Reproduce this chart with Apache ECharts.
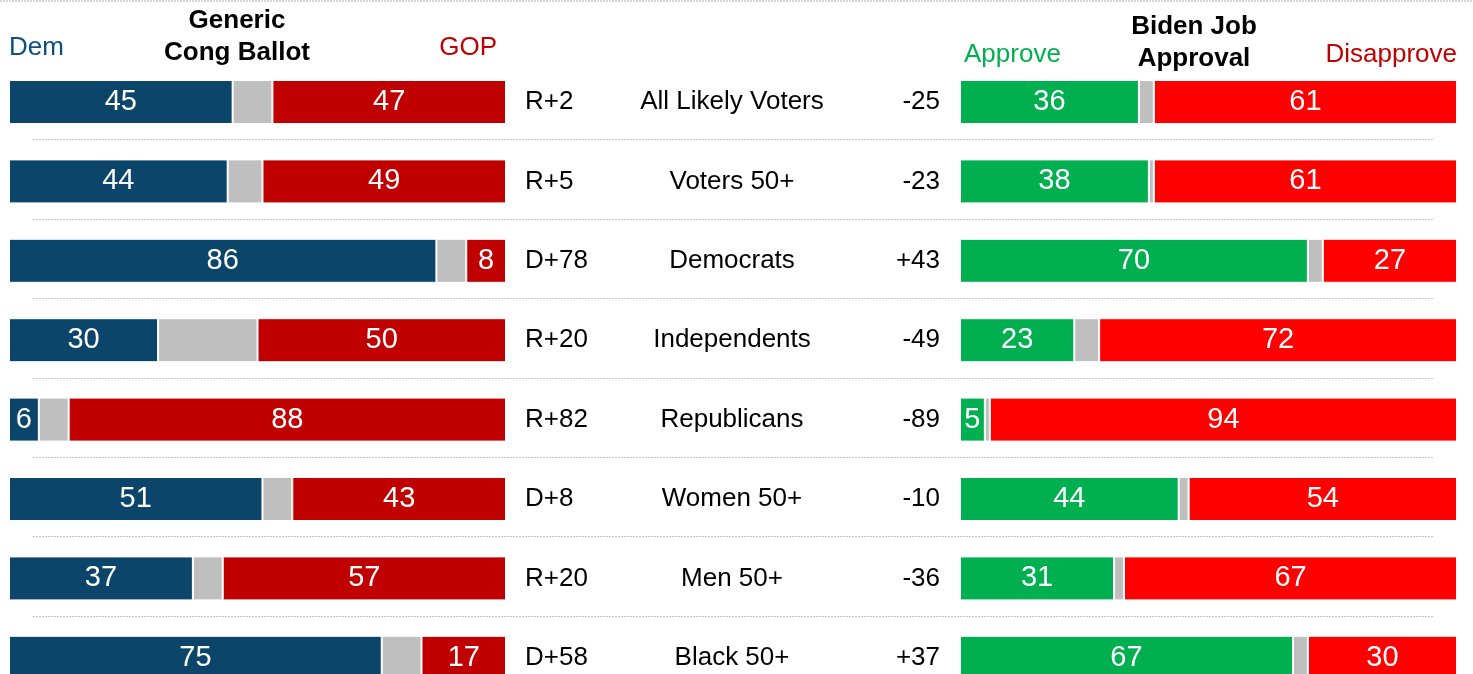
<!DOCTYPE html>
<html>
<head>
<meta charset="utf-8">
<script src="https://cdn.jsdelivr.net/npm/echarts@6/dist/echarts.min.js"></script>
<style>
  html, body { margin: 0; padding: 0; background: #fff; }
  #chart { width: 1473px; height: 674px; }
</style>
</head>
<body>
<div id="chart"></div>
<script>
// groups, top to bottom
const groups = ['All Likely Voters', 'Voters 50+', 'Democrats', 'Independents',
  'Republicans', 'Women 50+', 'Men 50+', 'Black 50+'];

// generic congressional ballot
const dem = [45, 44, 86, 30, 6, 51, 37, 75];
const gop = [47, 49, 8, 50, 88, 43, 57, 17];

// biden job approval
const approve = [36, 38, 70, 23, 5, 44, 31, 67];
const disapprove = [61, 61, 27, 72, 94, 54, 67, 30];

const undecided = dem.map((d, i) => 100 - d - gop[i]);
const unsure = approve.map((a, i) => 100 - a - disapprove[i]);
const margins = dem.map((d, i) => (gop[i] >= d ? 'R+' : 'D+') + Math.abs(gop[i] - d));
const nets = approve.map((a, i) => {
  const n = a - disapprove[i];
  return n > 0 ? '+' + n : String(n);
});

const FONT = '"Liberation Sans", Arial, sans-serif';
const TOP = 62.3, H = 635.2;

const chart = echarts.init(document.getElementById('chart'));

function seg(name, data, color, stack, idx, showLabel) {
  return {
    name: name,
    type: 'bar',
    stack: stack,
    xAxisIndex: idx,
    yAxisIndex: idx,
    data: data,
    barWidth: 44,
    itemStyle: { color: color, borderColor: '#fff', borderWidth: 1 },
    label: {
      show: showLabel,
      position: 'inside',
      color: '#fff',
      fontSize: 29,
      fontFamily: FONT
    },
    silent: true,
    animation: false
  };
}

const option = {
  backgroundColor: '#fff',
  textStyle: { fontFamily: FONT },
  grid: [
    { left: 9, width: 497, top: TOP, height: H, outerBoundsMode: 'none' },
    { left: 960, width: 497, top: TOP, height: H, outerBoundsMode: 'none' },
    { left: 33, width: 1400, top: TOP - 2, height: H, outerBoundsMode: 'none' }
  ],
  xAxis: [
    { gridIndex: 0, type: 'value', min: 0, max: 100, show: false },
    { gridIndex: 1, type: 'value', min: 0, max: 100, show: false },
    { gridIndex: 2, type: 'value', min: 0, max: 100, show: false }
  ],
  yAxis: [
    {
      gridIndex: 0, type: 'category', data: groups, inverse: true, position: 'right',
      axisLine: { show: false }, axisTick: { show: false },
      axisLabel: {
        margin: 19, align: 'left', color: '#000', fontSize: 26, fontFamily: FONT,
        padding: [0, 0, 4, 0],
        formatter: (v, i) => margins[i]
      }
    },
    {
      gridIndex: 1, type: 'category', data: groups, inverse: true, position: 'left',
      axisLine: { show: false }, axisTick: { show: false },
      axisLabel: {
        margin: 20, align: 'right', color: '#000', fontSize: 26, fontFamily: FONT,
        padding: [0, 0, 4, 0],
        formatter: (v, i) => nets[i]
      }
    },
    {
      gridIndex: 2, type: 'category', data: groups, inverse: true,
      axisLine: { show: false }, axisTick: { show: false }, axisLabel: { show: false },
      splitLine: {
        show: true,
        interval: (i) => i > 0,
        lineStyle: { color: '#c4c4c4', type: [2, 1], width: 1 }
      }
    },
    {
      gridIndex: 0, type: 'category', data: groups, inverse: true, position: 'right',
      axisLine: { show: false }, axisTick: { show: false },
      axisLabel: {
        margin: 226, align: 'center', color: '#000', fontSize: 26, fontFamily: FONT,
        padding: [0, 0, 4, 0]
      }
    }
  ],
  graphic: [
    { type: 'line', shape: { x1: 0, y1: 1, x2: 1473, y2: 1 },
      style: { stroke: '#b0b0b0', lineDash: [2, 1], lineWidth: 1 } },
    { type: 'text', left: 9, top: 35,
      style: { text: 'Dem', fill: '#0B4F7A', font: '26px ' + FONT } },
    { type: 'text', right: 1473 - 497, top: 35,
      style: { text: 'GOP', fill: '#C00000', font: '26px ' + FONT } },
    { type: 'text', x: 237, y: 5,
      style: { text: 'Generic\nCong Ballot', fill: '#000', font: 'bold 26px ' + FONT,
        align: 'center', lineHeight: 32 } },
    { type: 'text', left: 964, top: 42,
      style: { text: 'Approve', fill: '#00B050', font: '26px ' + FONT } },
    { type: 'text', right: 16, top: 42,
      style: { text: 'Disapprove', fill: '#C00000', font: '26px ' + FONT } },
    { type: 'text', x: 1194, y: 11,
      style: { text: 'Biden Job\nApproval', fill: '#000', font: 'bold 26px ' + FONT,
        align: 'center', lineHeight: 32 } }
  ],
  series: [
    seg('Dem', dem, '#0B456A', 'l', 0, true),
    seg('Undecided', undecided, '#BFBFBF', 'l', 0, false),
    seg('GOP', gop, '#C00000', 'l', 0, true),
    seg('Approve', approve, '#00B050', 'r', 1, true),
    seg('Unsure', unsure, '#BFBFBF', 'r', 1, false),
    seg('Disapprove', disapprove, '#FF0000', 'r', 1, true)
  ]
};

chart.setOption(option);
</script>
</body>
</html>
